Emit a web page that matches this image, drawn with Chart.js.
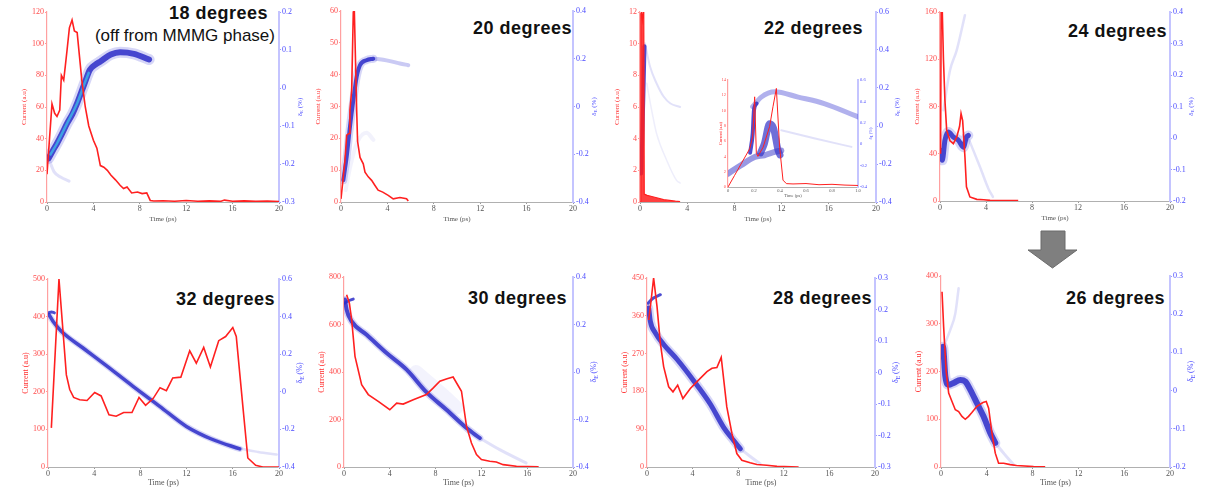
<!DOCTYPE html>
<html>
<head>
<meta charset="utf-8">
<script src="https://cdn.jsdelivr.net/npm/chart.js@4.4.1/dist/chart.umd.min.js"></script>
<style>
  body { margin: 0; width: 1212px; height: 490px; position: relative; overflow: hidden; background: #fff; }
  canvas { position: absolute; }
  .ttl { position: absolute; font-family: "Liberation Sans", Arial, sans-serif; font-weight: bold; font-size: 18px;
         letter-spacing: 0.5px; line-height: 1; color: #111; white-space: nowrap; }
  .sub { position: absolute; font-family: "Liberation Sans", Arial, sans-serif; font-size: 17px; line-height: 1;
         color: #111; white-space: nowrap; }
  svg { position: absolute; left: 0; top: 0; }
</style>
</head>
<body>
<div class="ttl" style="right:944px;top:4px">18 degrees</div>
<div class="sub" style="right:937px;top:27px">(off from MMMG phase)</div>
<div class="ttl" style="right:640px;top:19px">20 degrees</div>
<div class="ttl" style="right:349px;top:19px">22 degrees</div>
<div class="ttl" style="right:45px;top:22px">24 degrees</div>
<div class="ttl" style="right:937px;top:290px">32 degrees</div>
<div class="ttl" style="right:645px;top:289px">30 degrees</div>
<div class="ttl" style="right:340px;top:289px">28 degrees</div>
<div class="ttl" style="right:47px;top:289px">26 degrees</div>
<svg width="1212" height="490">
  <polygon points="1041,231 1065,231 1065,250 1077,250 1052.5,268 1028,250 1041,250" fill="#7f7f7f" stroke="#6b6b6b" stroke-width="1"/>
</svg>
<script>
// shared ticks
const xTicks = [0, 4, 8, 12, 16, 20];

// ---- 18 degrees ----
const curT18 = [0, 0.43, 0.66, 0.86, 1.1, 1.24, 1.44, 1.58, 1.73, 1.93, 2.16, 2.36, 2.6, 2.8, 3.0, 3.3, 3.6, 4.0, 4.3, 4.6, 4.9, 5.2, 5.5, 5.9, 6.3, 6.6, 6.9, 7.3, 7.8, 8.2, 8.6, 8.9, 9.2, 10, 11, 12, 13, 14, 15, 15.3, 16, 17, 18, 19, 20];
const cur18 = [17.6, 62, 56, 54, 58, 80, 77, 86, 96, 110, 115, 108, 107, 92, 77, 60, 48, 39, 34, 23, 22, 20, 17, 14, 10.6, 8.5, 9.5, 5.7, 6.3, 5.3, 5.7, 1, 0.6, 0.8, 0.5, 0.9, 0.5, 0.7, 0.5, 1.2, 0.5, 0.7, 0.4, 0.6, 0.3];
const eT18 = [0.14, 0.5, 0.86, 1.3, 1.73, 2.2, 2.6, 3.2, 3.7, 4.2, 4.6, 5.5, 6.3, 7.5, 8.8];
const e18 = [-0.185, -0.165, -0.146, -0.12, -0.093, -0.068, -0.04, 0.009, 0.048, 0.062, 0.07, 0.088, 0.094, 0.09, 0.075];
const coreT18 = [0.3, 0.86, 1.73, 2.6, 3.2, 3.6];
const core18 = [-0.175, -0.146, -0.093, -0.04, 0.009, 0.04];
const fT18 = [0.14, 0.6, 1.2, 1.9];
const f18 = [-0.185, -0.22, -0.235, -0.245];
const yTicks18 = [0, 20, 40, 60, 80, 100, 120];
const eTicks18 = [-0.3, -0.2, -0.1, 0, 0.1, 0.2];

// ---- 20 degrees ----
const curT20 = [0, 0.34, 0.49, 0.69, 0.77, 0.92, 1.06, 1.15, 1.35, 1.43, 1.64, 1.92, 2.07, 2.35, 2.64, 2.93, 3.2, 3.6, 4.07, 4.5, 5.08, 5.65, 5.8];
const cur20 = [1, 13, 21, 21.5, 29, 35, 59.7, 60, 29, 19, 14, 12, 9.4, 7.9, 6.8, 5.2, 3.7, 3.1, 2.1, 1, 1.4, 1, 0.3];
const eT20 = [0.2, 0.49, 0.77, 1.06, 1.35, 1.64, 2.2, 2.78];
const e20 = [-0.309, -0.211, -0.086, 0.026, 0.124, 0.173, 0.194, 0.2];
const tailT20 = [2.2, 2.78, 3.64, 4.5, 5.08, 5.8];
const tail20 = [0.194, 0.2, 0.196, 0.187, 0.18, 0.173];
const fT20 = [0.4, 0.8, 1.4, 2.2, 2.8];
const f20 = [-0.35, -0.25, -0.15, -0.11, -0.14];
const yTicks20 = [0, 10, 20, 30, 40, 50, 60];
const eTicks20 = [-0.4, -0.2, 0, 0.2, 0.4];

// ---- 22 degrees ----
const curT22 = [0, 0.07, 0.13, 0.2, 0.27, 0.32, 0.36, 0.6, 1.0, 1.5, 2.0, 2.5, 3.0, 3.4];
const cur22 = [0, 11.9, 12, 11.5, 12, 11.8, 0.5, 0.42, 0.35, 0.25, 0.15, 0.1, 0.05, 0.03];
const eT22 = [0.1, 0.2, 0.3, 0.38];
const e22 = [-0.25, -0.05, 0.2, 0.42];
const fT22a = [0.42, 0.85, 1.4, 2.0, 2.55, 3.4];
const f22a = [0.436, 0.313, 0.225, 0.155, 0.12, 0.1];
const fT22b = [0.57, 1.0, 1.4, 2.26, 3.1, 3.4];
const f22b = [0.225, 0.08, -0.039, -0.18, -0.286, -0.3];
const yTicks22 = [0, 2, 4, 6, 8, 10, 12];
const eTicks22 = [-0.4, -0.2, 0, 0.2, 0.4, 0.6];

// ---- 22 degrees, inset ----
const inX = [0, 0.2, 0.4, 0.6, 0.8, 1];
const inCurT = [0, 0.05, 0.1, 0.167, 0.19, 0.205, 0.218, 0.23, 0.27, 0.32, 0.346, 0.372, 0.397, 0.423, 0.449, 0.5, 0.6, 0.7, 0.8, 0.9, 1.0];
const inCur = [0, 1.5, 3, 5.0, 6.6, 11.8, 4.4, 4.0, 5.2, 7.9, 10.5, 12.9, 5.2, 0.9, 0.44, 0.4, 0.45, 0.3, 0.35, 0.25, 0.2];
const inLowT = [0, 0.1, 0.205, 0.28, 0.36, 0.41];
const inLow = [-0.275, -0.197, -0.119, -0.103, -0.072, -0.06];
const inSpikeT = [0.17, 0.19, 0.2, 0.22];
const inSpike = [-0.08, 0.1, 0.32, 0.38];
const inUpT = [0.19, 0.256, 0.36, 0.54, 0.74, 1.0];
const inUp = [0.35, 0.44, 0.49, 0.44, 0.38, 0.256];
const inMidT = [0.25, 0.28, 0.32, 0.35, 0.385, 0.4];
const inMid = [-0.08, 0.006, 0.19, 0.15, -0.056, -0.1];
const inLRT = [0.41, 0.67, 0.95];
const inLR = [0.13, 0.053, -0.025];
const inYTicks = [0, 2, 4, 6, 8, 10, 12, 14];
const inETicks = [-0.4, -0.2, 0, 0.2, 0.4, 0.6];

// ---- 24 degrees ----
const curT24 = [0.05, 0.1, 0.2, 0.3, 0.43, 0.58, 0.87, 1.16, 1.45, 1.7, 1.83, 1.97, 2.17, 2.3, 2.6, 3.2, 3.8, 4.35, 5.2, 6.8];
const cur24 = [40, 160, 160, 120, 85, 60, 51, 48.5, 54, 63, 74, 68, 37, 12, 3.4, 1.4, 1.1, 0.5, 0.3, 0.3];
const eT24 = [0.06, 0.2, 0.43, 0.72, 1.16, 1.6, 2.03, 2.3, 2.46];
const e24 = [-0.039, -0.071, -0.007, 0.019, 0.003, -0.007, -0.029, 0.003, 0.008];
const upT24 = [0.3, 0.87, 1.45, 2.17];
const up24 = [0.088, 0.215, 0.278, 0.39];
const dnT24 = [2.46, 3.48, 4.2, 4.6];
const dn24 = [0.0, -0.092, -0.16, -0.187];
const yTicks24 = [0, 40, 80, 120, 160];
const eTicks24 = [-0.2, -0.1, 0, 0.1, 0.2, 0.3, 0.4];

// ---- 32 degrees ----
const curT32 = [0.29, 0.95, 1.59, 1.88, 2.22, 2.74, 3.38, 4.04, 4.6, 5.28, 5.9, 6.55, 7.27, 7.88, 8.45, 9.1, 9.7, 10.25, 10.8, 11.5, 12.27, 12.84, 13.48, 14.06, 14.78, 15.38, 16.0, 16.3, 16.9, 17.3, 17.98, 18.6, 20];
const cur32 = [104, 500, 245, 206, 185, 179, 177, 198, 189, 139, 135, 145, 145, 185, 164, 182, 211, 203, 237, 239, 309, 276, 318, 266, 336, 347, 371, 347, 152, 24, 4.4, 0, 0];
const eT32 = [0.09, 0.43, 1.15, 3.03, 5.05, 7.36, 9.67, 11.98, 14.3, 16.6];
const e32 = [0.41, 0.375, 0.322, 0.233, 0.139, 0.029, -0.077, -0.184, -0.255, -0.304];
const hookT32 = [0.05, 0.3, 0.55];
const hook32 = [0.42, 0.425, 0.42];
const fT32 = [14.3, 16.6, 18.2, 19.8];
const f32 = [-0.25, -0.3, -0.32, -0.334];
const yTicks32 = [0, 100, 200, 300, 400, 500];
const eTicks32 = [-0.4, -0.2, 0, 0.2, 0.4, 0.6];

// ---- 30 degrees ----
const curT30 = [0.23, 0.47, 0.67, 0.96, 1.54, 2.12, 2.99, 4.0, 4.6, 5.17, 6.05, 7.2, 7.8, 8.37, 9.0, 9.53, 10.0, 10.26, 10.7, 11.13, 11.57, 12.0, 12.73, 13.3, 13.9, 15.06, 17];
const cur30 = [725, 690, 620, 466, 347, 305, 276, 241, 269, 265, 283, 305, 333, 361, 372, 379, 340, 319, 171, 101, 52, 31, 24, 21, 10, 3, 1];
const eT30 = [0.09, 0.23, 0.67, 1.98, 3.72, 5.47, 7.2, 8.95, 10.7, 11.86];
const e30 = [0.305, 0.262, 0.213, 0.157, 0.08, 0.01, -0.085, -0.159, -0.236, -0.278];
const hookT30 = [0.05, 0.4, 0.8];
const hook30 = [0.29, 0.3, 0.307];
const fT30 = [11.86, 13.6, 15.9];
const f30 = [-0.278, -0.327, -0.383];
const cloudT30 = [6.3, 7.5, 8.7, 9.8];
const cloud30 = [0.0, -0.05, -0.1, -0.15];
const yTicks30 = [0, 200, 400, 600, 800];
const eTicks30 = [-0.4, -0.2, 0, 0.2, 0.4];

// ---- 28 degrees ----
const curT28 = [0.15, 0.35, 0.58, 0.88, 1.17, 1.46, 1.9, 2.28, 2.69, 3.15, 3.8, 4.67, 5.26, 5.7, 6.13, 6.51, 7.0, 7.45, 7.88, 8.32, 9.05, 9.64, 10.5, 11.4, 13.3];
const cur28 = [350, 394, 450, 382, 295, 239, 191, 179, 195, 163, 187, 211, 227, 235, 237, 261, 143, 80, 32, 16, 10, 6, 4, 1.6, 0];
const eT28 = [0.15, 0.29, 0.73, 1.46, 2.63, 4.09, 5.55, 6.72, 7.6, 8.18];
const e28 = [0.205, 0.163, 0.126, 0.089, 0.042, -0.026, -0.1, -0.174, -0.216, -0.242];
const hookT28 = [0.1, 0.5, 1.17];
const hook28 = [0.22, 0.235, 0.247];
const fT28 = [8.18, 9.0, 9.93];
const f28 = [-0.242, -0.265, -0.29];
const yTicks28 = [0, 90, 180, 270, 360, 450];
const eTicks28 = [-0.3, -0.2, -0.1, 0, 0.1, 0.2, 0.3];

// ---- 26 degrees ----
const curT26 = [0.09, 0.23, 0.44, 0.67, 0.96, 1.25, 1.54, 1.83, 2.12, 2.41, 2.7, 3.14, 3.66, 3.95, 4.16, 4.45, 4.74, 5.03, 5.47, 6.05, 6.6, 8.08, 9.1];
const cur26 = [367, 294, 203, 155, 137, 120, 116, 106, 100, 106, 114, 127, 135, 137, 123, 71, 29, 8, 8, 5, 3, 1, 0.5];
const eT26 = [0.09, 0.17, 0.38, 0.67, 1.1, 1.69, 2.12, 2.56, 3.14, 3.72, 4.3, 4.74];
const e26 = [0.089, 0.115, 0.037, 0.015, 0.02, 0.028, 0.024, 0.002, -0.033, -0.068, -0.111, -0.137];
const dnT26 = [4.74, 5.5, 6.34];
const dn26 = [-0.137, -0.165, -0.194];
const upT26 = [0.23, 0.81, 1.25, 1.54];
const up26 = [0.115, 0.159, 0.202, 0.268];
const yTicks26 = [0, 100, 200, 300, 400];
const eTicks26 = [-0.2, -0.1, 0, 0.1, 0.2, 0.3];

const DARK = 'rgba(45,45,200,0.85)';
const HALO = 'rgba(70,70,220,0.22)';
const FAINT = 'rgba(90,90,220,0.18)';
const CYAN = 'rgba(60,170,230,0.9)';
const RED = '#ff2020';

const pts = (t, v) => t.map((x, i) => ({ x: x, y: v[i] }));
function cur(t, v, extra) {
  return Object.assign({ data: pts(t, v), yAxisID: 'y', borderColor: RED, borderWidth: 1.6, pointRadius: 0, tension: 0, fill: false }, extra);
}
function band(t, v, w, col) {
  return { data: pts(t, v), yAxisID: 'y1', borderColor: col, borderWidth: w, pointRadius: 0,
           cubicInterpolationMode: 'monotone', borderCapStyle: 'round', borderJoinStyle: 'round', fill: false };
}

// right axis title: delta with subscript E, read bottom-to-top
const rightTitle = {
  id: 'rightTitle',
  afterDraw(chart, args, o) {
    const { ctx, chartArea } = chart;
    const s = o.size;
    const f1 = s + 'px "Liberation Serif"', f2 = (s * 0.7).toFixed(1) + 'px "Liberation Serif"';
    ctx.save();
    ctx.translate(chartArea.right + o.offset, (chartArea.top + chartArea.bottom) / 2);
    ctx.rotate(-Math.PI / 2);
    ctx.fillStyle = '#5050ff';
    ctx.textBaseline = 'middle';
    ctx.textAlign = 'left';
    ctx.font = f1;
    const wD = ctx.measureText('δ').width, wP = ctx.measureText(' (%)').width;
    ctx.font = f2;
    const wE = ctx.measureText('E').width;
    let x = -(wD + wE + wP) / 2;
    ctx.font = f1; ctx.fillText('δ', x, 0); x += wD;
    ctx.font = f2; ctx.fillText('E', x, s * 0.3); x += wE;
    ctx.font = f1; ctx.fillText(' (%)', x, 0);
    ctx.restore();
  }
};

function makePanel(p) {
  const L = p.L, R = p.R, T = p.T, B = p.B;
  const w = p.box.w + L + R, h = p.box.h + T + B;
  const cv = document.createElement('canvas');
  cv.width = w; cv.height = h;
  cv.style.left = (p.box.x - L) + 'px';
  cv.style.top = (p.box.y - T) + 'px';
  cv.style.width = w + 'px'; cv.style.height = h + 'px';
  document.body.appendChild(cv);
  const tf = { family: '"Liberation Serif", "Times New Roman", serif', size: p.tick };
  const hf = { family: '"Liberation Serif", "Times New Roman", serif', size: p.head };
  const ticksFrom = arr => s => { s.ticks = arr.map(v => ({ value: v })); };
  new Chart(cv, {
    type: 'line',
    data: { datasets: p.sets },
    plugins: [rightTitle],
    options: {
      responsive: false,
      animation: false,
      events: [],
      layout: { padding: { top: T, left: 0, right: 0, bottom: 0 } },
      plugins: { legend: { display: false }, tooltip: { enabled: false },
                 rightTitle: { offset: p.rt, size: p.head } },
      scales: {
        x: {
          type: 'linear', min: p.xT[0], max: p.xT[p.xT.length - 1],
          afterBuildTicks: ticksFrom(p.xT), afterFit: s => { s.height = B; },
          grid: { drawOnChartArea: false, tickLength: p.tl, color: '#999' },
          border: { color: '#b0b0b0', width: 1 },
          ticks: { font: tf, color: '#555', padding: 0, maxRotation: 0, autoSkip: false },
          title: { display: true, text: 'Time (ps)', font: hf, color: '#555', padding: 0 }
        },
        y: {
          position: 'left', min: p.yT[0], max: p.yT[p.yT.length - 1],
          afterBuildTicks: ticksFrom(p.yT), afterFit: s => { s.width = L; },
          grid: { drawOnChartArea: false, tickLength: p.tl, color: '#ff9a9a' },
          border: { color: '#ffa0a0', width: 1.2 },
          ticks: { font: tf, color: '#ff4c4c', padding: 1, autoSkip: false },
          title: { display: true, text: 'Current (a.u)', font: hf, color: '#ff3030', padding: 0 }
        },
        y1: {
          position: 'right', min: p.eT[0], max: p.eT[p.eT.length - 1],
          afterBuildTicks: ticksFrom(p.eT), afterFit: s => { s.width = R; },
          grid: { drawOnChartArea: false, tickLength: p.tl, color: '#9a9aff' },
          border: { color: '#c4c4ff', width: 2 },
          ticks: { font: tf, color: '#4a4aff', padding: 1, autoSkip: false },
          title: { display: false }
        }
      }
    }
  });
}

const big = { xT: xTicks, L: 27, R: 28, T: 10, B: 21, tl: 2, tick: 8, rt: 21 };
const panels = [
  { box: { x: 47, y: 12, w: 232, h: 190 }, yT: yTicks18, eT: eTicks18, head: 7,
    sets: [cur(curT18, cur18), band(coreT18, core18, 2.5, CYAN), band(eT18, e18, 6, DARK),
           band(eT18, e18, 11, HALO), band(fT18, f18, 3, FAINT)] },
  { box: { x: 341, y: 11, w: 232, h: 191 }, yT: yTicks20, eT: eTicks20, head: 7,
    sets: [cur(curT20, cur20), band(eT20, e20, 4, DARK), band(eT20, e20, 8, HALO),
           band(tailT20, tail20, 4, 'rgba(80,80,220,0.3)'), band(fT20, f20, 4, 'rgba(90,90,220,0.08)')] },
  { box: { x: 640, y: 12, w: 236, h: 190 }, yT: yTicks22, eT: eTicks22, head: 7,
    sets: [cur(curT22, cur22, { borderWidth: 1.2, fill: 'origin', backgroundColor: 'rgba(255,30,30,0.85)' }), band(eT22, e22, 4, DARK),
           band(fT22a, f22a, 2, FAINT), band(fT22b, f22b, 1.5, 'rgba(90,90,220,0.1)')] },
  { box: { x: 940, y: 12, w: 230, h: 189 }, yT: yTicks24, eT: eTicks24, head: 7,
    sets: [cur(curT24, cur24), band(eT24, e24, 5, DARK), band(eT24, e24, 10, HALO),
           band(upT24, up24, 2.5, FAINT), band(dnT24, dn24, 2.5, FAINT)] },
  { box: { x: 48, y: 279, w: 231, h: 188 }, yT: yTicks32, eT: eTicks32, head: 8,
    sets: [cur(curT32, cur32), band(eT32, e32, 3.5, DARK), band(eT32, e32, 6, HALO),
           band(hookT32, hook32, 3, DARK), band(fT32, f32, 2.5, FAINT)] },
  { box: { x: 344, y: 277, w: 229, h: 190 }, yT: yTicks30, eT: eTicks30, head: 8,
    sets: [cur(curT30, cur30), band(eT30, e30, 4, DARK), band(eT30, e30, 7, HALO),
           band(hookT30, hook30, 3, DARK), band(fT30, f30, 3, FAINT), band(cloudT30, cloud30, 14, 'rgba(90,90,220,0.07)')] },
  { box: { x: 647, y: 278, w: 228, h: 189 }, yT: yTicks28, eT: eTicks28, head: 8,
    sets: [cur(curT28, cur28), band(eT28, e28, 5, DARK), band(eT28, e28, 9, HALO),
           band(hookT28, hook28, 3, DARK), band(fT28, f28, 3, FAINT)] },
  { box: { x: 941, y: 276, w: 229, h: 191 }, yT: yTicks26, eT: eTicks26, head: 8,
    sets: [cur(curT26, cur26), band(eT26, e26, 6, DARK), band(eT26, e26, 10, HALO),
           band(dnT26, dn26, 3, FAINT), band(upT26, up26, 2.5, FAINT)] }
];
panels.forEach(p => makePanel(Object.assign({}, big, p)));

// inset of the 22 degrees panel
makePanel({ box: { x: 728, y: 80, w: 130, h: 107 }, xT: inX, yT: inYTicks, eT: inETicks,
  L: 10, R: 16, T: 4, B: 12, tl: 1, tick: 4.5, head: 4.5, rt: 13,
  sets: [cur(inCurT, inCur, { borderWidth: 1 }), band(inSpikeT, inSpike, 4, DARK), band(inMidT, inMid, 7, 'rgba(50,50,200,0.7)'),
         band(inLowT, inLow, 6, 'rgba(50,50,200,0.5)'), band(inUpT, inUp, 5, 'rgba(60,60,210,0.4)'), band(inLRT, inLR, 2, FAINT)] });
</script>
</body>
</html>
